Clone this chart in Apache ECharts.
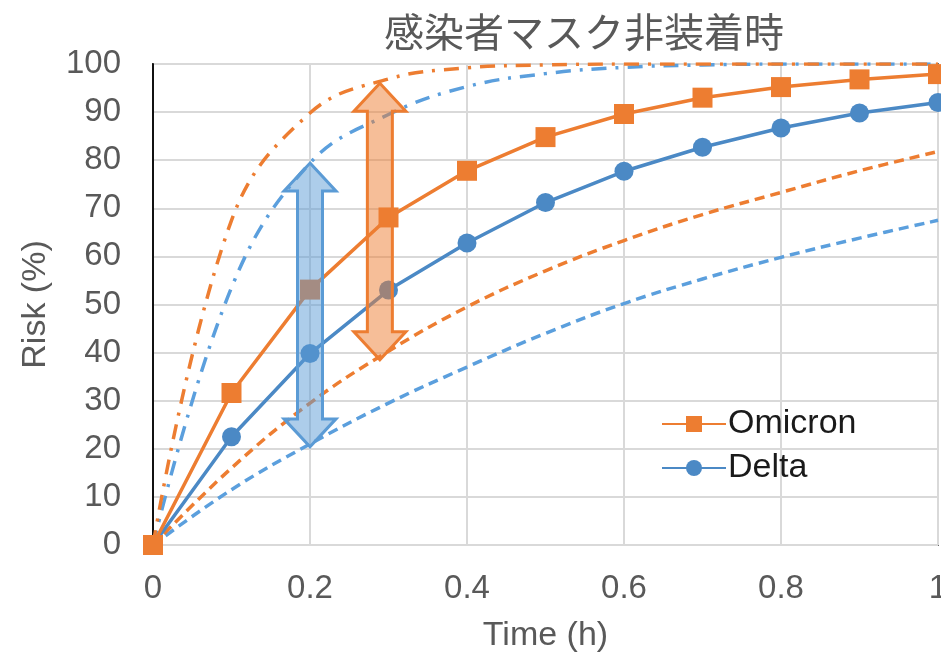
<!DOCTYPE html>
<html>
<head>
<meta charset="utf-8">
<script src="https://cdn.jsdelivr.net/npm/echarts@6/dist/echarts.min.js"></script>
<style>html,body{margin:0;padding:0;background:#fff}#c{width:941px;height:663px}</style>
</head>
<body>
<div id="c"></div>
<script>
const times = [0, 0.1, 0.2, 0.3, 0.4, 0.5, 0.6, 0.7, 0.8, 0.9, 1.0];
const omicron = [0, 31.6, 53.1, 68.1, 77.8, 84.8, 89.6, 93.0, 95.2, 96.8, 97.9];
const delta = [0, 22.5, 39.8, 53.0, 62.8, 71.2, 77.7, 82.7, 86.7, 89.8, 92.0];
const omicronLow = [0, 16.0, 29.5, 40.3, 49.5, 57.0, 63.3, 68.7, 73.3, 77.8, 81.8];
const deltaLow = [0, 11.5, 21.0, 29.5, 37.0, 44.0, 50.2, 55.3, 59.8, 63.8, 67.5];
const omicronHigh = [0, 67.5, 89.8, 96.9, 99.2, 99.8, 100, 100, 100, 100, 100];
const deltaHigh = [0, 53.5, 79.4, 89.5, 95.3, 98.0, 99.3, 99.8, 100, 100, 100];
const yTicks = [0, 10, 20, 30, 40, 50, 60, 70, 80, 90, 100];
const xTicks = [0, 0.2, 0.4, 0.6, 0.8, 1];
// arrows: [x, low, high, colorIndex]
const arrows = [[0.2, 20.4, 79.4, 0], [0.289, 38.5, 96.0, 1]];

const ORANGE = '#ED7D31';
const BLUE = '#4B89C5';
const LBLUE = '#5B9FDD';
const FONT = '"Liberation Sans", Arial, sans-serif';
const pairs = arr => times.map((t, i) => [t, arr[i]]);

const chart = echarts.init(document.getElementById('c'), null, {renderer: 'canvas'});
const arrowStyles = [
  {fill: 'rgba(91,155,213,0.5)', stroke: '#5B9BD5'},
  {fill: 'rgba(237,125,49,0.5)', stroke: '#ED7D31'}
];
chart.setOption({
  animation: false,
  backgroundColor: '#fff',
  title: {
    text: '感染者マスク非装着時', left: 579, top: 7, textAlign: 'center',
    textStyle: {fontFamily: '"Noto Sans CJK JP", sans-serif', fontSize: 40, fontWeight: 'normal', color: '#595959'}
  },
  grid: {left: 153, right: 3, top: 64, bottom: 118, show: true, borderColor: '#6b6b6b', borderWidth: 2,
    backgroundColor: 'transparent', containLabel: false, outerBoundsMode: 'none'},
  legend: {
    data: ['Omicron', 'Delta'], orient: 'vertical', left: 656, top: 402,
    itemWidth: 64, itemHeight: 20, itemGap: 10,
    textStyle: {fontFamily: FONT, fontSize: 34, color: '#1a1a1a', padding: [0, 0, 0, -3]}
  },
  xAxis: {
    type: 'value', min: 0, max: 1, interval: 0.2,
    name: 'Time (h)', nameLocation: 'middle', nameGap: 74,
    nameTextStyle: {fontFamily: FONT, fontSize: 34, color: '#595959'},
    axisLine: {show: false}, axisTick: {show: false},
    axisLabel: {fontFamily: FONT, fontSize: 33, color: '#595959', margin: 27,
      formatter: v => { const s = xTicks.find(t => Math.abs(t - v) < 1e-9); return s === undefined ? '' : String(s); }},
    splitLine: {show: true, lineStyle: {color: '#d9d9d9', width: 2}}
  },
  yAxis: {
    type: 'value', min: 0, max: 100, interval: 10,
    name: 'Risk (%)', nameLocation: 'middle', nameGap: 100,
    nameTextStyle: {fontFamily: FONT, fontSize: 34, color: '#595959'},
    axisLine: {show: true, lineStyle: {color: '#111', width: 2}}, axisTick: {show: false},
    axisLabel: {fontFamily: FONT, fontSize: 33, color: '#595959', margin: 32,
      formatter: v => yTicks.includes(v) ? String(v) : ''},
    splitLine: {show: true, lineStyle: {color: '#d9d9d9', width: 2}}
  },
  series: [
    {name: 'deltaLow', type: 'line', data: pairs(deltaLow), smooth: 0.4, showSymbol: false, symbol: 'none',
      lineStyle: {color: LBLUE, width: 3.5, type: [10, 6]}, z: 2},
    {name: 'omicronLow', type: 'line', data: pairs(omicronLow), smooth: 0.4, showSymbol: false, symbol: 'none',
      lineStyle: {color: ORANGE, width: 3.5, type: [10, 6]}, z: 2},
    {name: 'deltaHigh', type: 'line', data: pairs(deltaHigh), smooth: 0.4, showSymbol: false, symbol: 'none',
      lineStyle: {color: LBLUE, width: 3.5, type: [15, 9, 3, 9]}, z: 2},
    {name: 'omicronHigh', type: 'line', data: pairs(omicronHigh), smooth: 0.4, showSymbol: false, symbol: 'none',
      lineStyle: {color: ORANGE, width: 3.5, type: [15, 9, 3, 9]}, z: 2},
    {name: 'Delta', type: 'line', data: pairs(delta), symbol: 'circle', symbolSize: 19,
      itemStyle: {color: BLUE}, lineStyle: {color: BLUE, width: 3.5}, z: 3},
    {name: 'Omicron', type: 'line', data: pairs(omicron), symbol: 'rect', symbolSize: 20,
      itemStyle: {color: ORANGE}, lineStyle: {color: ORANGE, width: 3.5}, z: 4},
    {name: 'arrows', type: 'custom', data: arrows, z: 10,
      encode: {x: 0, y: [1, 2]},
      renderItem: function (params, api) {
        const x = api.value(0), lo = api.value(1), hi = api.value(2), ci = api.value(3);
        const pLo = api.coord([x, lo]), pHi = api.coord([x, hi]);
        const cx = pLo[0], top = pHi[1], bot = pLo[1];
        const sh = 12.5, hh = 26, hl = 28;
        const pts = [
          [cx, top], [cx + hh, top + hl], [cx + sh, top + hl], [cx + sh, bot - hl], [cx + hh, bot - hl],
          [cx, bot], [cx - hh, bot - hl], [cx - sh, bot - hl], [cx - sh, top + hl], [cx - hh, top + hl]
        ];
        const st = arrowStyles[ci];
        return {type: 'polygon', shape: {points: pts},
          style: {fill: st.fill, stroke: st.stroke, lineWidth: 3, lineJoin: 'miter'}};
      }
    }
  ]
});
</script>
</body>
</html>
